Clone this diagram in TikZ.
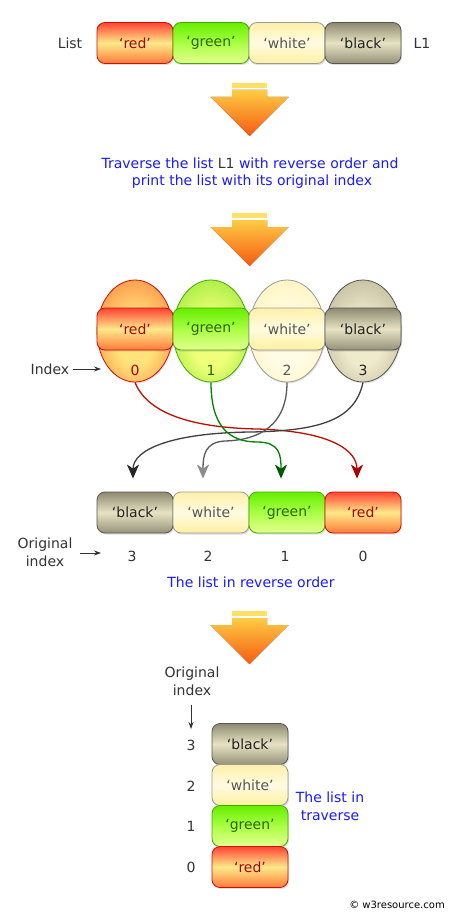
\documentclass[tikz,border=0pt]{standalone}
\usepackage{fontspec}
\setmainfont{DejaVu Sans}
\usetikzlibrary{shadows,arrows.meta,shapes.geometric}
\definecolor{redline}{HTML}{CC1100}
\definecolor{redtop}{HTML}{FF4433}
\definecolor{redmid}{HTML}{FFE98A}
\definecolor{redbot}{HTML}{FF7A3A}
\definecolor{redtxt}{HTML}{AA0000}
\definecolor{grnline}{HTML}{44AA00}
\definecolor{grntop}{HTML}{66EE00}
\definecolor{grnmid}{HTML}{AAFF44}
\definecolor{grnbot}{HTML}{E4FF90}
\definecolor{grntxt}{HTML}{2A6600}
\definecolor{whtline}{HTML}{999999}
\definecolor{whttop}{HTML}{FFF0A8}
\definecolor{whtmid}{HTML}{FFFBE2}
\definecolor{whtbot}{HTML}{FFF0A0}
\definecolor{whttxt}{HTML}{555555}
\definecolor{blkline}{HTML}{555555}
\definecolor{blktop}{HTML}{8E8A70}
\definecolor{blkmid}{HTML}{E6E2C2}
\definecolor{blkbot}{HTML}{96927A}
\definecolor{blktxt}{HTML}{222222}
\definecolor{ovRin}{HTML}{FFE27A}
\definecolor{ovRout}{HTML}{FF5522}
\definecolor{ovGin}{HTML}{F0FF7A}
\definecolor{ovGout}{HTML}{66DD11}
\definecolor{ovWin}{HTML}{FFFCE6}
\definecolor{ovWout}{HTML}{FFEE9E}
\definecolor{ovBin}{HTML}{EEEACB}
\definecolor{ovBout}{HTML}{9C9879}
\definecolor{bluetxt}{HTML}{1A1AFF}
\definecolor{labtxt}{HTML}{333333}
\definecolor{arrtop}{HTML}{FFCC44}
\definecolor{arrbot}{HTML}{F55A12}
\definecolor{arrbar}{HTML}{FFE066}
\pgfdeclareradialshading{ovred}{\pgfpoint{0bp}{-6bp}}{color(0bp)=(ovRin);color(12bp)=(ovRin);color(48bp)=(ovRout);color(72bp)=(ovRout)}
\pgfdeclareradialshading{ovgrn}{\pgfpoint{0bp}{-6bp}}{color(0bp)=(ovGin);color(12bp)=(ovGin);color(48bp)=(ovGout);color(72bp)=(ovGout)}
\pgfdeclareradialshading{ovwht}{\pgfpoint{0bp}{-6bp}}{color(0bp)=(ovWin);color(12bp)=(ovWin);color(48bp)=(ovWout);color(72bp)=(ovWout)}
\pgfdeclareradialshading{ovblk}{\pgfpoint{0bp}{-6bp}}{color(0bp)=(ovBin);color(12bp)=(ovBin);color(48bp)=(ovBout);color(72bp)=(ovBout)}
\begin{document}
\begin{tikzpicture}[x=1pt,y=-1pt,
  txt/.style={font=\fontsize{14}{16}\selectfont, inner sep=0pt},
  lab/.style={txt, text=labtxt},
  blue/.style={txt, text=bluetxt},
  cell/.style={rounded corners=8pt, minimum width=76pt, minimum height=41pt, inner sep=0pt,
    font=\fontsize{14}{16}\selectfont, line width=0.8pt,
    drop shadow={opacity=.25,shadow xshift=1pt,shadow yshift=-1.5pt}},
  redcell/.style={cell, draw=redline, top color=redtop, bottom color=redbot, middle color=redmid, text=redtxt},
  grncell/.style={cell, draw=grnline, top color=grntop, bottom color=grnbot, middle color=grnmid, text=grntxt},
  whtcell/.style={cell, draw=whtline, top color=whttop, bottom color=whtbot, middle color=whtmid, text=whttxt},
  blkcell/.style={cell, draw=blkline, top color=blktop, bottom color=blkbot, middle color=blkmid, text=blktxt},
  oval/.style={ellipse, minimum width=76pt, minimum height=102pt, inner sep=0pt, line width=0.8pt,
    drop shadow={opacity=.2,shadow xshift=1pt,shadow yshift=-1.5pt}},
  curve/.style={line width=1.3pt, shorten >=1pt},
  smallarrow/.style={line width=0.7pt, draw=labtxt, -{Stealth[length=7pt,width=5pt]}},
  downarrow/.pic={
    \fill[arrbar] (-17.5,0) rectangle (17.5,5);
    \fill[top color=arrtop,bottom color=arrbot] (-17.5,7) -- (17.5,7) -- (17.5,14) -- (39,14) -- (0,53) -- (-39,14) -- (-17.5,14) -- cycle;
  }]
\useasboundingbox[fill=white] (0,0) rectangle (455,920);

% top list
\node[lab] (listlab) at (70,43) {List};
\node[redcell] (a0) at (135,43) {‘red’};
\node[grncell] (a1) at (211,43) {‘green’};
\node[whtcell] (a2) at (287,43) {‘white’};
\node[blkcell] (a3) at (363,43) {‘black’};
\node[lab] (l1lab) at (422,43) {L1};

\pic at (249.5,83) {downarrow};
\node[blue] (t1) at (250,163) {Traverse the list \textcolor{labtxt}{L1} with reverse order and};
\node[blue] (t2) at (252,182) {print the list with its original index};
\pic at (249.5,213) {downarrow};

% ovals
\node[oval, draw=redline, shading=ovred] (o0) at (135,331) {};
\node[oval, draw=grnline, shading=ovgrn] (o1) at (211,331) {};
\node[oval, draw=whtline, shading=ovwht] (o2) at (287,331) {};
\node[oval, draw=blkline, shading=ovblk] (o3) at (363,331) {};
\node[redcell, minimum height=42pt] (n0) at (135,329) {‘red’};
\node[grncell, minimum height=42pt] (n1) at (211,329) {‘green’};
\node[whtcell, minimum height=42pt] (n2) at (287,329) {‘white’};
\node[blkcell, minimum height=42pt] (n3) at (363,329) {‘black’};
\node[txt, text=redtxt] (i0) at (135,370) {0};
\node[txt, text=grntxt] (i1) at (211,370) {1};
\node[txt, text=whttxt] (i2) at (287,370) {2};
\node[txt, text=blktxt] (i3) at (363,370) {3};
\node[lab] (idxlab) at (50,369) {Index};
\coordinate (idxend) at (101,369);
\draw[smallarrow] (idxlab.east) ++(4,0) -- (idxend);

% reversed list
\node[blkcell] (b0) at (135,512.5) {‘black’};
\node[whtcell] (b1) at (211,512.5) {‘white’};
\node[grncell] (b2) at (287,512.5) {‘green’};
\node[redcell] (b3) at (363,512.5) {‘red’};

% curves
\draw[curve, draw=redline!90!black, -{Stealth[length=14pt,width=12pt,inset=4pt,color=redtxt]}]
  (o0.south) .. controls (150,420) and (210,428) .. (257,429) .. controls (330,431) and (357,450) .. ([xshift=-6pt,yshift=12pt]b3.north);
\draw[curve, draw=black!75, -{Stealth[length=14pt,width=12pt,inset=4pt,color=black!85]}]
  (o3.south) .. controls (355,420) and (320,431) .. (250,432) .. controls (170,433) and (133,450) .. ([xshift=-2pt,yshift=12pt]b0.north);
\draw[curve, draw=black!65, -{Stealth[length=14pt,width=12pt,inset=4pt,color=black!45]}]
  (o2.south) .. controls (287,425) and (260,440) .. (225,441) .. controls (205,442) and (203,455) .. ([xshift=-8pt,yshift=12pt]b1.north);
\draw[curve, draw=green!50!black, -{Stealth[length=14pt,width=12pt,inset=4pt,color=green!35!black]}]
  (o1.south) .. controls (211,425) and (228,442) .. (257,442) .. controls (280,442) and (281,455) .. ([xshift=-6pt,yshift=12pt]b2.north);

\node[lab] (n3b) at (132,556) {3};
\node[lab] (n2b) at (208,556) {2};
\node[lab] (n1b) at (285,556) {1};
\node[lab] (n0b) at (363,556) {0};
\node[lab, align=center, font=\fontsize{14}{18}\selectfont] (origlab) at (45,552) {Original\\index};
\coordinate (origend) at (101,553);
\draw[smallarrow] (80,553) -- (origend);
\node[blue] (rev) at (251,582) {The list in reverse order};

\pic at (249.5,611) {downarrow};

% traverse
\node[lab, align=center, font=\fontsize{14}{18}\selectfont] (orig2) at (192,681) {Original\\index};
\coordinate (downend) at (191,729);
\draw[smallarrow] (191,705) -- (downend);
\node[blkcell] (c3) at (250,744) {‘black’};
\node[whtcell] (c2) at (250,785) {‘white’};
\node[grncell] (c1) at (250,826) {‘green’};
\node[redcell] (c0) at (250,867) {‘red’};
\node[lab] (m3) at (191,745) {3};
\node[lab] (m2) at (191,786) {2};
\node[lab] (m1) at (191,826) {1};
\node[lab] (m0) at (191,867) {0};
\node[blue, align=center, font=\fontsize{14}{18}\selectfont] (trav) at (330,806) {The list in\\traverse};
\node[txt, font=\fontsize{10}{12}\selectfont, text=black] (copy) at (397,905) {© w3resource.com};
\end{tikzpicture}
\end{document}
